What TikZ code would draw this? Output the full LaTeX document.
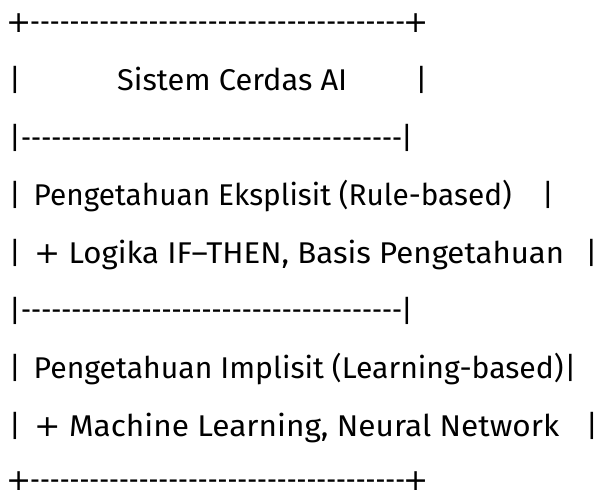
\documentclass[tikz,border=0pt]{standalone}
\usepackage{fontspec}
\setmainfont{Fira Sans}
\newfontfamily\plusfont{DejaVu Sans}
\usepackage{graphicx}

% a row of 38 separate hyphens (no -- ligatures), stretched to #1
\newcommand{\dashrow}[1]{\resizebox{#1}{\height}{\foreach \i in {1,...,38}{-{}}}}
% a line of text set to the width of the reference
\newcommand{\fitline}[2]{\resizebox{#1}{\height}{#2}}
\newcommand{\plus}{{\plusfont +}}

\begin{document}
\begin{tikzpicture}[x=1pt, y=-1pt, font=\fontsize{30}{30}\selectfont,
    txt/.style={anchor=base west, inner sep=0pt},
    bar/.style={anchor=base, inner sep=0pt}]
  \useasboundingbox (0,0) rectangle (597,494);
  % top border
  \node[bar] (tl) at (19,32.5) {\plus};
  \node[txt] (top) at (30,32.5) {\dashrow{375pt}};
  \node[bar] (tr) at (416,32.5) {\plus};
  % title row
  \node[bar] (l2) at (15,91) {|};
  \node[txt] (title) at (117,91) {\fitline{230pt}{Sistem Cerdas AI}};
  \node[bar] (r2) at (421.5,91) {|};
  % separator
  \node[bar] (l3) at (15,148.5) {|};
  \node[txt] (sepa) at (21,148.5) {\dashrow{381pt}};
  \node[bar] (r3) at (407,148.5) {|};
  % explicit knowledge
  \node[bar] (l4) at (15,206) {|};
  \node[txt] (eks) at (33.5,206) {\fitline{478pt}{Pengetahuan Eksplisit (Rule-based)}};
  \node[bar] (r4) at (548,206) {|};
  \node[bar] (l5) at (15,263.5) {|};
  \node[txt] (eksb) at (34,263.5) {\fitline{530pt}{\plus{} Logika IF–THEN, Basis Pengetahuan}};
  \node[bar] (r5) at (591.5,263.5) {|};
  % separator
  \node[bar] (l6) at (15,321) {|};
  \node[txt] (sepb) at (21,321) {\dashrow{381pt}};
  \node[bar] (r6) at (407,321) {|};
  % implicit knowledge
  \node[bar] (l7) at (15,378.5) {|};
  \node[txt] (imp) at (33.5,378.5) {\fitline{530pt}{Pengetahuan Implisit (Learning-based)}};
  \node[bar] (r7) at (570.5,378.5) {|};
  \node[bar] (l8) at (15,436) {|};
  \node[txt] (impb) at (34,436) {\fitline{525pt}{\plus{} Machine Learning, Neural Network}};
  \node[bar] (r8) at (592,436) {|};
  % bottom border
  \node[bar] (bl) at (19,490.5) {\plus};
  \node[txt] (bot) at (30,490.5) {\dashrow{375pt}};
  \node[bar] (br) at (416,490.5) {\plus};
\end{tikzpicture}
\end{document}
